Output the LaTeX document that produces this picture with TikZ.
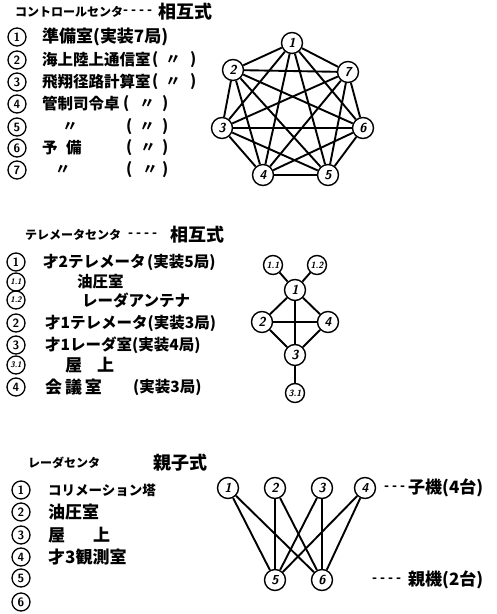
\documentclass[tikz,border=0pt]{standalone}
\usepackage{fontspec}
\newfontfamily\cjk{Noto Sans CJK JP}
\begin{document}
\begin{tikzpicture}[x=1pt,y=-1pt,
  gnode/.style={circle,draw,line width=1.4pt,minimum size=21pt,inner sep=0pt,fill=white,font=\sffamily\itshape\bfseries\fontsize{13}{13}\selectfont},
  snode/.style={gnode,minimum size=19pt,font=\sffamily\itshape\bfseries\fontsize{9}{9}\selectfont},
  lnum/.style={circle,draw,line width=1.3pt,minimum size=18pt,inner sep=0pt,font=\sffamily\bfseries\fontsize{12}{12}\selectfont},
  lsub/.style={lnum,font=\sffamily\itshape\bfseries\fontsize{8}{8}\selectfont},
  edge/.style={line width=1.9pt},
  txt/.style={anchor=west,inner sep=0pt,font=\cjk\bfseries\fontsize{15.5}{15.5}\selectfont},
  big/.style={txt,font=\cjk\bfseries\fontsize{17}{17}\selectfont},
  ctxt/.style={inner sep=0pt,font=\cjk\bfseries\fontsize{15}{15}\selectfont},
  ttl/.style={anchor=west,inner sep=0pt,font=\cjk\bfseries\fontsize{12}{12}\selectfont},
  dsh/.style={anchor=west,inner sep=0pt,font=\cjk\bfseries\fontsize{13}{13}\selectfont},
  ttlb/.style={anchor=west,inner sep=0pt,font=\cjk\bfseries\fontsize{18}{18}\selectfont}]
\useasboundingbox (0,0) rectangle (497,614);

% ---------- Section 1 ----------
\node[ttl] (s1t) at (15,12) {コントロールセンタ};
\node[dsh] (s1d) at (123,12) {- - - -};
\node[ttlb] (s1m) at (158,12) {相互式};

\node[lnum] (a1) at (17,37) {1};
\node[lnum] (a2) at (17,60) {2};
\node[lnum] (a3) at (17,82) {3};
\node[lnum] (a4) at (17,104) {4};
\node[lnum] (a5) at (17,127) {5};
\node[lnum] (a6) at (17,148) {6};
\node[lnum] (a7) at (17,170) {7};

\node[big] (a1t) at (42,37) {準備室(実装7局)};
\node[txt] (a2t) at (42,60) {海上陸上通信室};
\node[txt] (a2p) at (152,60) {(};
\node[ctxt] (a2q) at (173,60) {〃};
\node[txt] (a2r) at (190,60) {)};
\node[txt] (a3t) at (42,82) {飛翔径路計算室};
\node[txt] (a3p) at (152,82) {(};
\node[ctxt] (a3q) at (173,82) {〃};
\node[txt] (a3r) at (190,82) {)};
\node[txt] (a4t) at (42,104) {管制司令卓};
\node[txt] (a4p) at (123,104) {(};
\node[ctxt] (a4q) at (147,104) {〃};
\node[txt] (a4r) at (162,104) {)};
\node[ctxt] (a5t) at (70,127) {〃};
\node[txt] (a5p) at (126,127) {(};
\node[ctxt] (a5q) at (147,127) {〃};
\node[txt] (a5r) at (162,127) {)};
\node[txt] (a6t) at (42,148) {予};
\node[txt] (a6u) at (66,148) {備};
\node[txt] (a6p) at (126,148) {(};
\node[ctxt] (a6q) at (148,148) {〃};
\node[txt] (a6r) at (162,148) {)};
\node[ctxt] (a7t) at (63,170) {〃};
\node[txt] (a7p) at (126,170) {(};
\node[ctxt] (a7q) at (150,170) {〃};
\node[txt] (a7r) at (162,170) {)};

% heptagon
\node[gnode] (h1) at (292,43) {1};
\node[gnode] (h2) at (233,70) {2};
\node[gnode] (h3) at (222,128) {3};
\node[gnode] (h4) at (263,175) {4};
\node[gnode] (h5) at (328,175) {5};
\node[gnode] (h6) at (363,128) {6};
\node[gnode] (h7) at (348,72) {7};
\foreach \i/\j in {1/2,1/3,1/4,1/5,1/6,1/7,2/3,2/4,2/5,2/6,2/7,3/4,3/5,3/6,3/7,4/5,4/6,4/7,5/6,5/7,6/7}
  \draw[edge] (h\i) -- (h\j);

% ---------- Section 2 ----------
\node[ttl] (s2t) at (25,235) {テレメータセンタ};
\node[dsh] (s2d) at (128,235) {- - - -};
\node[ttlb] (s2m) at (170,235) {相互式};

\node[lnum] (b1) at (16,262) {1};
\node[lsub] (b11) at (16,282) {1.1};
\node[lsub] (b12) at (16,300) {1.2};
\node[lnum] (b2) at (16,323) {2};
\node[lnum] (b3) at (16,345) {3};
\node[lsub] (b31) at (16,365) {3.1};
\node[lnum] (b4) at (16,387) {4};

\node[txt] (b1t) at (43,262) {才2テレメータ};
\node[txt] (b1u) at (147,262) {(実装5局)};
\node[txt] (b11t) at (77,282) {油圧室};
\node[txt] (b12t) at (82,300) {レーダアンテナ};
\node[txt] (b2t) at (45,323) {才1テレメータ(実装3局)};
\node[txt] (b3t) at (45,345) {才1レーダ室(実装4局)};
\node[big] (b31t) at (65,365) {屋};
\node[big] (b31u) at (97,365) {上};
\node[big] (b4t) at (45,387) {会\,議\,室};
\node[txt] (b4u) at (133,387) {(実装3局)};

\node[snode] (t11) at (273,265) {1.1};
\node[snode] (t12) at (317,265) {1.2};
\node[gnode] (t1) at (295,290) {1};
\node[gnode] (t2) at (262,322) {2};
\node[gnode] (t4) at (328,322) {4};
\node[gnode] (t3) at (295,355) {3};
\node[snode] (t31) at (295,393) {3.1};
\foreach \i/\j in {11/1,12/1,1/2,1/4,1/3,2/4,2/3,4/3,3/31}
  \draw[edge] (t\i) -- (t\j);

% ---------- Section 3 ----------
\node[ttl] (s3t) at (28,463) {レーダセンタ};
\node[ttlb] (s3m) at (153,463) {親子式};

\node[lnum] (c1) at (21,490) {1};
\node[lnum] (c2) at (21,512) {2};
\node[lnum] (c3) at (21,535) {3};
\node[lnum] (c4) at (21,557) {4};
\node[lnum] (c5) at (21,578) {5};
\node[lnum] (c6) at (21,602) {6};

\node[txt,font=\cjk\bfseries\fontsize{13.5}{13.5}\selectfont] (c1t) at (48,490) {コリメーション塔};
\node[big] (c2t) at (48,512) {油圧室};
\node[big] (c3t) at (48,535) {屋};
\node[big] (c3u) at (93,535) {上};
\node[big] (c4t) at (48,557) {才3観測室};

\node[gnode] (r1) at (228,488) {1};
\node[gnode] (r2) at (275,488) {2};
\node[gnode] (r3) at (322,488) {3};
\node[gnode] (r4) at (365,488) {4};
\node[gnode] (r5) at (275,580) {5};
\node[gnode] (r6) at (322,580) {6};
\foreach \i in {1,2,3,4}{
  \draw[edge] (r\i) -- (r5);
  \draw[edge] (r\i) -- (r6);
}
\node[dsh] (k1d) at (384,488) {- - -};
\node[big] (k1t) at (408,488) {子機(4台)};
\node[dsh] (k2d) at (372,580) {- - - -};
\node[big] (k2t) at (408,580) {親機(2台)};
\end{tikzpicture}
\end{document}
